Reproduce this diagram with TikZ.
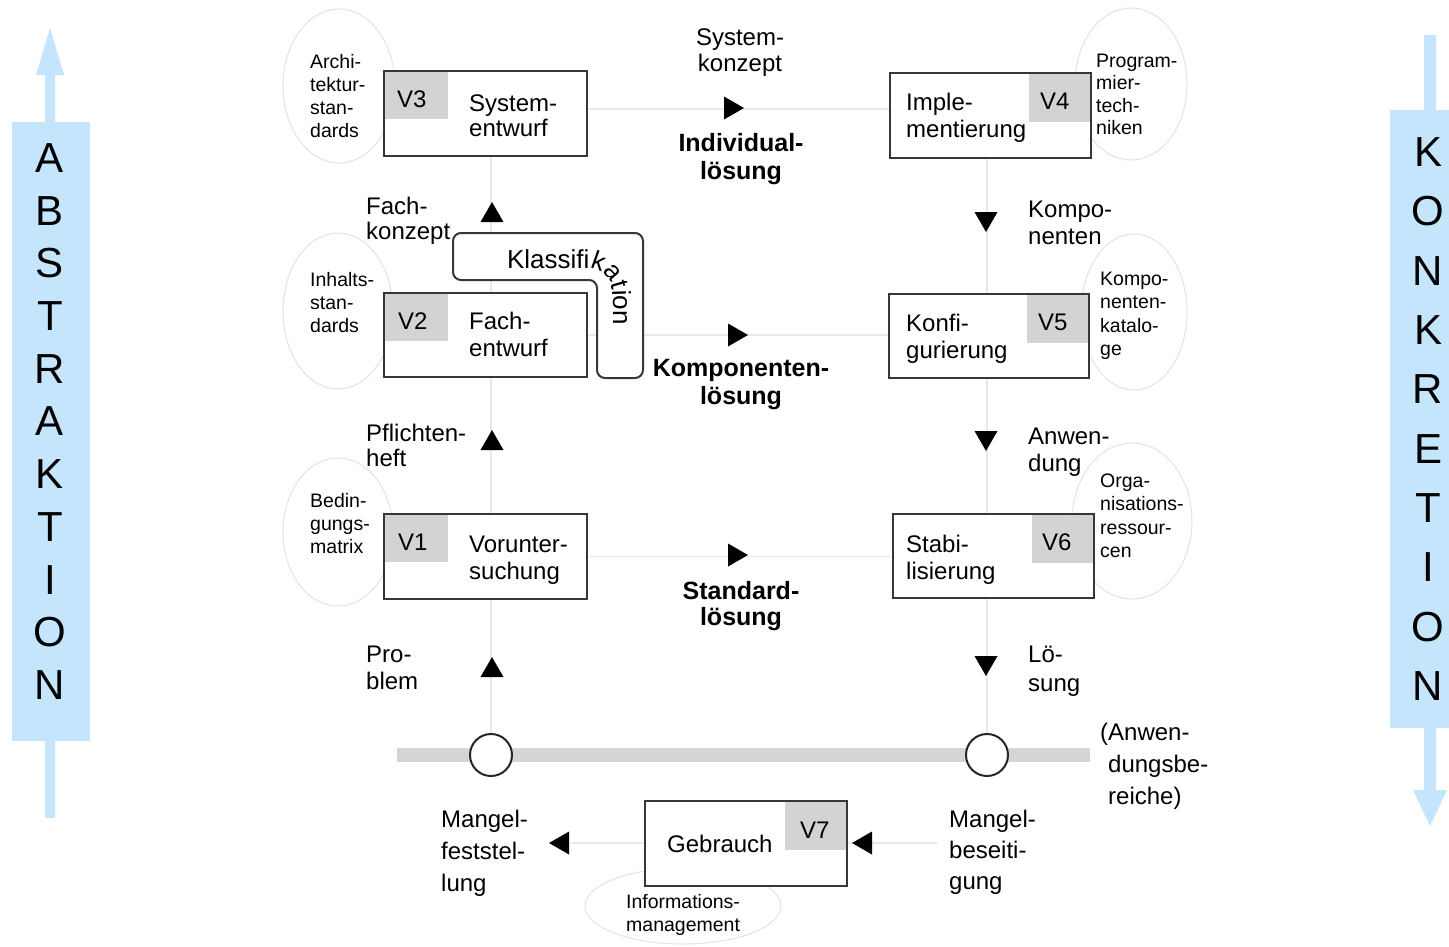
\documentclass[tikz,border=0pt]{standalone}
\usepackage{fontspec}
\setmainfont{Liberation Sans}
\usetikzlibrary{decorations.text}
\definecolor{skyb}{RGB}{197,229,253}
\definecolor{tabgray}{RGB}{211,211,211}
\definecolor{bargray}{RGB}{213,213,213}
\definecolor{linegray}{RGB}{232,232,232}
\definecolor{ellgray}{RGB}{226,226,226}
\definecolor{boxline}{RGB}{55,55,55}
\tikzset{
  vbox/.style={draw=boxline, line width=2pt, fill=white, anchor=north west, inner sep=0pt},
  tabL/.style={path picture={\fill[tabgray] (path picture bounding box.north west) rectangle ++(64pt,-48pt);}},
  tabR/.style={path picture={\fill[tabgray] (path picture bounding box.north east) rectangle ++(-62pt,-49pt);}},
  conn/.style={draw=linegray, line width=1.8pt},
  ell/.style={draw=ellgray, line width=1pt},
  mtxt/.style={font=\fontsize{24}{#1}\selectfont, align=left, anchor=base west, inner sep=0pt},
  mtxt/.default=26,
  btxt/.style={font=\fontsize{25}{#1}\selectfont\bfseries, align=center, anchor=base, inner sep=0pt},
  btxt/.default=27,
  stxt/.style={font=\fontsize{19.5}{#1}\selectfont, align=left, anchor=base west, inner sep=0pt},
  stxt/.default=23,
  bigtxt/.style={font=\fontsize{42}{#1}\selectfont, align=center, inner sep=0pt},
  triU/.pic={\fill[black] (-11.5pt,-10pt) -- (11.5pt,-10pt) -- (0pt,10pt) -- cycle;},
  ring/.style={circle, draw=black!85, line width=2pt, fill=white, minimum size=42pt, inner sep=0pt}
}
\begin{document}
\begin{tikzpicture}[x=1pt,y=-1pt]
\useasboundingbox (0,0) rectangle (1449,946);
% side arrows
\fill[skyb] (45,818) -- (45,75) -- (36,75) -- (50,28) -- (64,75) -- (55,75) -- (55,818) -- cycle;
\fill[skyb] (12,122) rectangle (90,741);
\node[bigtxt=52.7] (abs) at (50,421.5) {A\\B\\S\\T\\R\\A\\K\\T\\I\\O\\N};
\fill[skyb] (1424,35) -- (1424,790) -- (1413,790) -- (1430,826) -- (1447,790) -- (1436,790) -- (1436,35) -- cycle;
\fill[skyb] (1390,110) rectangle (1449,728);
\node[bigtxt=59.3] (kon) at (1428,419) {K\\O\\N\\K\\R\\E\\T\\I\\O\\N};
% ellipses
\draw[ell] (339,86) ellipse [x radius=56pt, y radius=77pt];
\draw[ell] (338,311) ellipse [x radius=55pt, y radius=78pt];
\draw[ell] (338,532) ellipse [x radius=55pt, y radius=74pt];
\draw[ell] (1131,84) ellipse [x radius=56pt, y radius=76pt];
\draw[ell] (1134,312) ellipse [x radius=53pt, y radius=78pt];
\draw[ell] (1132,521) ellipse [x radius=60pt, y radius=78pt];
\draw[ell] (683,906) ellipse [x radius=98pt, y radius=38pt];
% bar and rings
\fill[bargray] (397,748) rectangle (1090,762);
\node[ring] (c1) at (491,755) {};
\node[ring] (c2) at (987,755) {};
% vertical connectors
\coordinate (top3) at (491,155);
\coordinate (top4) at (987,157);
\draw[conn] (c1) -- (top3);
\draw[conn] (c2) -- (top4);
% boxes
\node[vbox, tabL, minimum width=203pt, minimum height=85pt] (v3) at (383,70) {};
\node[vbox, tabL, minimum width=203pt, minimum height=84pt] (v2) at (383,292) {};
\node[vbox, tabL, minimum width=203pt, minimum height=85pt] (v1) at (383,513) {};
\node[vbox, tabR, minimum width=201pt, minimum height=85pt] (v4) at (889,72) {};
\node[vbox, tabR, minimum width=200pt, minimum height=84pt] (v5) at (888,293) {};
\node[vbox, tabR, minimum width=201pt, minimum height=84pt] (v6) at (892,513) {};
\node[vbox, tabR, minimum width=202pt, minimum height=85pt] (v7) at (644,800) {};
% horizontal connectors
\draw[conn] ([yshift=4.5pt]v3.east) -- ([yshift=4.5pt]v3.east -| v4.west);
\draw[conn] (v2.east) -- (v2.east -| v5.west);
\draw[conn] (v1.east) -- (v1.east -| v6.west);
\coordinate (lend) at (570,843);
\coordinate (rend) at (937,843);
\draw[conn] (lend) -- (lend -| v7.west);
\draw[conn] (rend) -- (rend -| v7.east);
% Klassifikation
\draw[draw=boxline, line width=2pt, fill=white, rounded corners=8pt] (453,233) -- (643,233) -- (643,378) -- (597,378) -- (597,280) -- (453,280) -- cycle;
\path[decorate, decoration={text along path, text align=left, text={|\fontsize{26}{28}\selectfont|Klassifikation}}, rounded corners=26pt] (507,268) -- (613,268) -- (613,376);
% box texts
\node[mtxt] (l3) at (397,107) {V3};
\node[mtxt] (l2) at (398,329) {V2};
\node[mtxt] (l1) at (398,550) {V1};
\node[mtxt] (l4) at (1040,109) {V4};
\node[mtxt] (l5) at (1038,330) {V5};
\node[mtxt] (l6) at (1042,550) {V6};
\node[mtxt] (l7) at (800,838) {V7};
\node[mtxt=25] (t3) at (469,136) {System-\\entwurf};
\node[mtxt=27] (t2) at (469,356) {Fach-\\entwurf};
\node[mtxt=27] (t1) at (469,579) {Vorunter-\\suchung};
\node[mtxt=27] (t4) at (906,137) {Imple-\\mentierung};
\node[mtxt=27] (t5) at (906,358) {Konfi-\\gurierung};
\node[mtxt=27] (t6) at (906,579) {Stabi-\\lisierung};
\node[mtxt] (t7) at (667,852) {Gebrauch};
% flow labels
\node[mtxt=26, align=center, anchor=base] (sk) at (740,71) {System-\\konzept};
\node[btxt=28] (il) at (741,179) {Individual-\\lösung};
\node[btxt=28] (kl) at (741,404) {Komponenten-\\lösung};
\node[btxt=26] (sl) at (741,625) {Standard-\\lösung};
\node[mtxt=25] (fk) at (366,239) {Fach-\\konzept};
\node[mtxt=25] (ph) at (366,466) {Pflichten-\\heft};
\node[mtxt=27] (pb) at (366,689) {Pro-\\blem};
\node[mtxt=27] (kn) at (1028,244) {Kompo-\\nenten};
\node[mtxt=27] (an) at (1028,471) {Anwen-\\dung};
\node[mtxt=29] (ls) at (1028,691) {Lö-\\sung};
\node[mtxt=32] (ab1) at (1100,740) {(Anwen-};
\node[mtxt=32] (ab2) at (1108,804) {dungsbe-\\reiche)};
\node[mtxt=32] (mf) at (441,891) {Mangel-\\feststel-\\lung};
\node[mtxt=31] (mb) at (949,889) {Mangel-\\beseiti-\\gung};
% ellipse texts
\node[stxt] (e3) at (310,137) {Archi-\\tektur-\\stan-\\dards};
\node[stxt] (e2) at (310,332) {Inhalts-\\stan-\\dards};
\node[stxt] (e1) at (310,553) {Bedin-\\gungs-\\matrix};
\node[stxt=22.5] (e4) at (1096,134.5) {Program-\\mier-\\tech-\\niken};
\node[stxt=23.5] (e5) at (1100,355.5) {Kompo-\\nenten-\\katalo-\\ge};
\node[stxt=23.5] (e6) at (1100,557.5) {Orga-\\nisations-\\ressour-\\cen};
\node[stxt] (e7) at (626,931) {Informations-\\management};
% arrowheads
\pic at (492,212) {triU};
\pic at (492,440) {triU};
\pic at (492,667) {triU};
\pic[rotate=180] at (986,222) {triU};
\pic[rotate=180] at (986,441) {triU};
\pic[rotate=180] at (986,666) {triU};
\pic[rotate=-90] at (734,108) {triU};
\pic[rotate=-90] at (738,335) {triU};
\pic[rotate=-90] at (738,555) {triU};
\pic[rotate=90] at (559,843) {triU};
\pic[rotate=90] at (862,843) {triU};
\end{tikzpicture}
\end{document}
